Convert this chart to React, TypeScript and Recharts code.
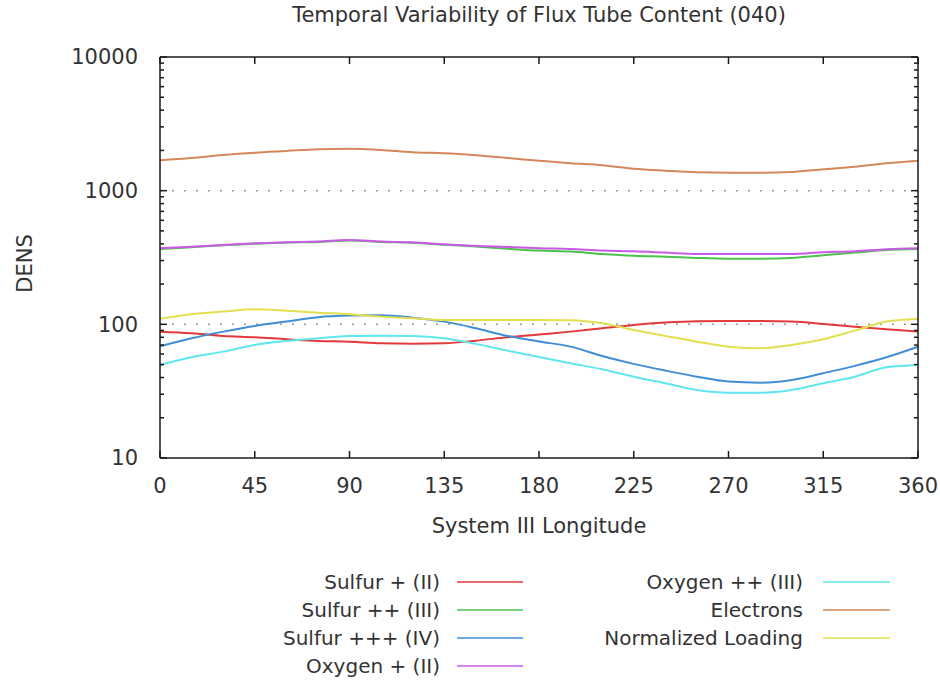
import React from 'react';
import { LineChart, Line, XAxis, YAxis, CartesianGrid, Legend } from 'recharts';

// System III longitude samples (degrees)
const longitudes = [0, 15, 30, 45, 60, 75, 90, 105, 120, 135, 150, 165, 180, 195, 210, 225, 240, 255, 270, 285, 300, 315, 330, 345, 360];

const sulfurII = [88.2, 85.8, 81.9, 80.1, 77.4, 75.1, 74.2, 72.2, 71.7, 72.2, 75.5, 80.1, 84, 88.2, 93.5, 99, 103, 105.5, 106, 106, 104.8, 100.7, 96.1, 91.9, 88.2];
const sulfurIII = [366, 378, 390, 401, 409, 413, 423, 413, 408, 394, 382, 368, 356, 350, 336, 326, 321, 314, 310, 310, 314, 329, 344, 360, 366];
const sulfurIV = [68.5, 78.7, 88.2, 97.3, 104.8, 113, 116.2, 117, 112.2, 104.8, 93.5, 81.9, 74.5, 68.1, 58, 50.6, 45.1, 40.6, 37.3, 36.6, 38.4, 43.1, 48.9, 56.7, 68];
const oxygenII = [371, 381, 392, 404, 411, 416, 428, 416, 411, 397, 386, 379, 371, 366, 356, 352, 344, 336, 336, 336, 336, 346, 352, 364, 371];
const oxygenIII = [49.7, 56.7, 62.5, 70.1, 75.1, 78.7, 81.9, 82.3, 81.9, 78.7, 71.4, 63.6, 57, 51.2, 46.1, 40.6, 36.3, 32.3, 30.8, 30.8, 32.3, 36.3, 40.6, 47.8, 49.7];
const electrons = [1688, 1756, 1849, 1924, 1981, 2040, 2062, 2016, 1938, 1905, 1840, 1756, 1676, 1603, 1549, 1460, 1411, 1373, 1363, 1363, 1380, 1445, 1512, 1603, 1676];
const normalizedLoading = [110, 119, 124.5, 129.7, 126.6, 122.3, 119, 114.2, 111.1, 107.9, 107.9, 107.9, 107.9, 107.3, 101.9, 90.8, 81.9, 74.2, 68.1, 66.3, 70.1, 77.4, 89.7, 104.8, 109.5];

const seriesNames = ['Sulfur + (II)', 'Sulfur ++ (III)', 'Sulfur +++ (IV)', 'Oxygen + (II)', 'Oxygen ++ (III)', 'Electrons', 'Normalized Loading'];
const seriesKeys = ['s2', 's3', 's4', 'o2', 'o3', 'e', 'nl'];
const seriesColors = ['#e23a3a', '#4cc24c', '#3f8ed6', '#c85ae6', '#5fe6ee', '#d4875a', '#e2e050'];

const xTicks = [0, 45, 90, 135, 180, 225, 270, 315, 360];
const yMajorTicks = [10, 100, 1000, 10000];
const yMinorTicks = [20, 30, 40, 50, 60, 70, 80, 90, 200, 300, 400, 500, 600, 700, 800, 900, 2000, 3000, 4000, 5000, 6000, 7000, 8000, 9000];

const title = 'Temporal Variability of Flux Tube Content (040)';
const xLabel = 'System III Longitude';
const yLabel = 'DENS';

const allSeries = [sulfurII, sulfurIII, sulfurIV, oxygenII, oxygenIII, electrons, normalizedLoading];
const data = longitudes.map((lon, i) => {
  const row: any = { lon };
  seriesKeys.forEach((k, j) => {
    row[k] = allSeries[j][i];
  });
  return row;
});

const FONT = '"DejaVu Sans", sans-serif';
const TEXT = '#333333';
const AXIS = '#1a1a1a';

const LegendContent = () => {
  return (
    <svg width={940} height={112} style={{ display: 'block' }}>
      {seriesNames.map((name, i) => {
        const col = i < 4 ? 0 : 1;
        const row = col === 0 ? i : i - 4;
        const cy = 14 + row * 28;
        const textX = col === 0 ? 440 : 803;
        const lx1 = col === 0 ? 457 : 823;
        const lx2 = col === 0 ? 523 : 890;
        return (
          <g key={i}>
            <text x={textX} y={cy} textAnchor="end" dominantBaseline="central" fontFamily={FONT} fontSize={20} fill={TEXT}>
              {name}
            </text>
            <line x1={lx1} x2={lx2} y1={cy} y2={cy} stroke={seriesColors[i]} strokeWidth={1.6} />
          </g>
        );
      })}
    </svg>
  );
};

const YLabel = (props: any) => {
  const vb = props.viewBox || { x: 0, y: 0, width: 0, height: 0 };
  const cx = vb.x + 32;
  const cy = vb.y + vb.height / 2 + 6;
  return (
    <text x={cx} y={cy} transform={`rotate(-90 ${cx} ${cy})`} textAnchor="middle" fontFamily={FONT} fontSize={21} fill={TEXT}>
      {yLabel}
    </text>
  );
};

const EmptyTick = () => <g />;

export default function App() {
  const tickStyle = { fontFamily: FONT, fontSize: 21, fill: TEXT };
  const tickLineStyle = { stroke: AXIS, strokeWidth: 1.5 };
  return (
    <div style={{ position: 'absolute', left: 0, top: 0, width: 940, height: 685, background: '#fff' }}>
      <div
        style={{
          position: 'absolute',
          left: 160,
          width: 758,
          top: 3,
          textAlign: 'center',
          fontFamily: FONT,
          fontSize: 21,
          lineHeight: '24px',
          color: TEXT,
        }}
      >
        {title}
      </div>
      <LineChart width={940} height={685} data={data} margin={{ top: 57, right: 22, bottom: 187, left: 0 }}>
        <CartesianGrid
          yAxisId="main"
          xAxisId="b"
          vertical={false}
          horizontalValues={[100, 1000]}
          stroke="#9a9a9a"
          strokeWidth={1.5}
          strokeDasharray="2 10"
        />
        <XAxis
          xAxisId="b"
          dataKey="lon"
          type="number"
          domain={[0, 360]}
          ticks={xTicks}
          interval={0}
          tickLine={false}
          tickSize={0}
          tickMargin={20}
          height={40}
          axisLine={{ stroke: AXIS, strokeWidth: 1.5 }}
          tick={tickStyle}
          label={{ value: xLabel, position: 'bottom', offset: 20, fontFamily: FONT, fontSize: 21, fill: TEXT }}
        />
        <XAxis
          xAxisId="bi"
          dataKey="lon"
          type="number"
          domain={[0, 360]}
          ticks={xTicks}
          interval={0}
          orientation="bottom"
          mirror
          height={1}
          tick={EmptyTick}
          tickSize={7}
          tickLine={tickLineStyle}
          axisLine={false}
        />
        <XAxis
          xAxisId="t"
          dataKey="lon"
          type="number"
          domain={[0, 360]}
          ticks={xTicks}
          interval={0}
          orientation="top"
          mirror
          height={1}
          tick={EmptyTick}
          tickSize={7}
          tickLine={tickLineStyle}
          axisLine={{ stroke: AXIS, strokeWidth: 1.5 }}
        />
        <YAxis
          yAxisId="main"
          type="number"
          scale="log"
          domain={[10, 10000]}
          allowDataOverflow
          ticks={yMajorTicks}
          interval={0}
          width={160}
          tickLine={false}
          tickSize={0}
          tickMargin={22}
          axisLine={{ stroke: AXIS, strokeWidth: 1.5 }}
          tick={tickStyle}
          label={<YLabel />}
        />
        <YAxis
          yAxisId="lmaj"
          type="number"
          scale="log"
          domain={[10, 10000]}
          allowDataOverflow
          ticks={yMajorTicks}
          interval={0}
          orientation="left"
          mirror
          width={0.01}
          tick={EmptyTick}
          tickSize={7}
          tickLine={tickLineStyle}
          axisLine={false}
        />
        <YAxis
          yAxisId="lmin"
          type="number"
          scale="log"
          domain={[10, 10000]}
          allowDataOverflow
          ticks={yMinorTicks}
          interval={0}
          orientation="left"
          mirror
          width={0.01}
          tick={EmptyTick}
          tickSize={4}
          tickLine={tickLineStyle}
          axisLine={false}
        />
        <YAxis
          yAxisId="rmaj"
          type="number"
          scale="log"
          domain={[10, 10000]}
          allowDataOverflow
          ticks={yMajorTicks}
          interval={0}
          orientation="right"
          mirror
          width={0.01}
          tick={EmptyTick}
          tickSize={7}
          tickLine={tickLineStyle}
          axisLine={{ stroke: AXIS, strokeWidth: 1.5 }}
        />
        <YAxis
          yAxisId="rmin"
          type="number"
          scale="log"
          domain={[10, 10000]}
          allowDataOverflow
          ticks={yMinorTicks}
          interval={0}
          orientation="right"
          mirror
          width={0.01}
          tick={EmptyTick}
          tickSize={4}
          tickLine={tickLineStyle}
          axisLine={false}
        />
        {seriesKeys.map((k, j) => (
          <Line
            key={k}
            xAxisId="b"
            yAxisId="main"
            type="monotone"
            dataKey={k}
            name={seriesNames[j]}
            stroke={seriesColors[j]}
            strokeWidth={2}
            dot={false}
            activeDot={false}
            isAnimationActive={false}
          />
        ))}
        <Legend
          layout="vertical"
          align="center"
          verticalAlign="middle"
          wrapperStyle={{ left: 0, top: 568, width: 940, height: 112 }}
          content={<LegendContent />}
        />
      </LineChart>
    </div>
  );
}
